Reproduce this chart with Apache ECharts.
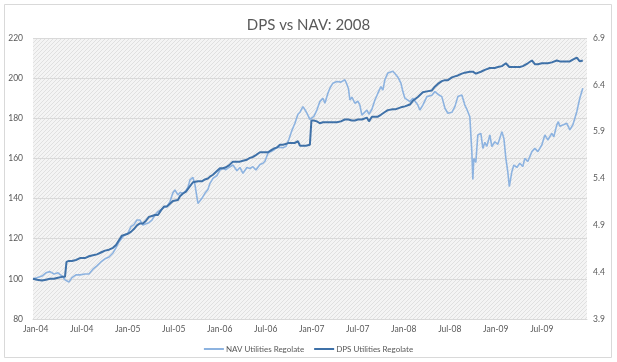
<!DOCTYPE html>
<html><head><meta charset="utf-8">
<script src="https://cdn.jsdelivr.net/npm/echarts@6/dist/echarts.min.js"></script>
<style>html,body{margin:0;padding:0;background:#fff;}#c{width:617px;height:362px;}</style>
</head><body><div id="c"></div>
<script>
// Time position of each observation, in months since 1 Jan 2004
const monthsSinceJan04 = [-0.35,0.17,0.82,1.34,1.86,2.39,2.91,3.43,3.82,4.02,
4.34,4.73,5.25,5.78,6.43,6.95,7.47,7.99,8.51,9.04,
9.56,10.08,10.47,10.86,11.25,11.64,12.03,12.42,12.81,13.21,
13.60,13.99,14.38,14.77,15.16,15.55,15.95,16.34,16.73,17.12,
17.51,17.90,18.16,18.55,18.82,19.21,19.60,19.86,20.12,20.51,
20.77,21.16,21.68,22.07,22.46,22.73,23.12,23.64,24.03,24.42,
24.81,25.20,25.72,26.25,26.64,27.03,27.55,27.94,28.33,28.72,
29.25,29.64,29.90,30.29,30.68,31.07,31.46,31.85,32.25,32.64,
33.03,33.42,33.81,34.20,34.46,34.85,35.24,35.50,35.76,35.96,
36.28,36.67,37.06,37.46,37.72,38.11,38.37,38.76,39.28,39.80,
40.32,40.58,40.78,40.98,41.24,41.63,42.02,42.28,42.54,42.80,
43.20,43.46,43.85,44.24,44.63,45.02,45.28,45.54,45.93,46.58,
46.98,47.24,47.63,47.89,48.15,48.41,48.80,49.19,49.45,49.84,
50.10,50.49,51.02,51.67,52.06,52.45,52.97,53.37,53.76,54.28,
54.67,55.06,55.58,55.97,56.23,56.62,56.88,57.01,57.14,57.40,
57.66,58.06,58.32,58.58,58.84,59.23,59.49,59.88,60.27,60.80,
61.06,61.32,61.58,61.77,62.10,62.36,62.75,63.14,63.53,63.79,
64.18,64.71,65.10,65.49,66.01,66.40,66.79,67.31,67.57,67.96,
68.16,68.35,68.75,69.27,69.66,70.05,70.57,70.96,71.35];

// NAV Utilities Regolate (left axis)
const navValues = [100.0,100.5,101.4,103.0,103.6,102.4,103.0,101.4,99.5,99.0,
98.4,100.6,102.0,102.0,102.4,102.4,104.8,106.5,108.4,110.0,
110.9,112.9,115.4,118.4,120.4,122.0,122.8,126.0,127.0,129.3,
129.3,126.8,127.5,128.0,129.3,131.8,133.5,134.5,135.5,136.0,
138.4,142.9,144.3,141.8,143.0,142.6,144.0,145.5,149.3,150.5,
147.0,137.6,140.1,142.6,144.5,147.6,150.1,151.5,154.2,155.0,
154.4,155.5,156.7,153.9,155.5,152.6,155.5,155.0,155.9,154.2,
157.0,157.6,158.6,162.6,163.5,164.2,165.6,165.5,165.3,166.0,
169.5,174.0,177.5,182.0,183.0,185.8,183.5,181.6,179.5,180.3,
181.0,184.1,188.3,190.0,187.5,192.5,195.0,197.5,198.3,198.0,
199.2,197.0,195.0,189.1,190.5,187.5,188.5,186.6,181.6,182.5,
184.1,182.0,184.5,189.1,192.5,195.8,194.0,199.2,202.6,203.4,
201.7,200.5,197.5,193.3,190.0,189.5,188.3,190.0,189.5,186.6,
184.1,186.6,190.8,191.5,193.3,192.0,190.8,185.0,182.5,183.0,
185.8,190.8,191.6,186.6,184.5,180.8,163.4,149.5,160.0,158.0,
171.7,172.5,165.0,168.0,166.0,171.7,165.9,168.3,167.0,173.3,
170.0,160.0,153.0,145.9,153.4,156.7,155.5,157.6,156.0,160.0,
158.5,163.4,165.0,163.4,166.7,171.7,169.2,172.5,170.8,176.7,
178.3,176.0,176.7,177.5,174.2,176.7,183.3,190.0,195.0];

// DPS Utilities Regolate (right axis)
const dpsValues = [4.33,4.32,4.31,4.32,4.33,4.33,4.34,4.35,4.35,4.51,
4.52,4.52,4.53,4.55,4.55,4.57,4.58,4.59,4.61,4.63,
4.64,4.66,4.69,4.74,4.79,4.80,4.81,4.83,4.86,4.90,
4.92,4.92,4.95,4.99,5.00,5.01,5.01,5.06,5.10,5.10,
5.13,5.16,5.17,5.17,5.21,5.24,5.26,5.29,5.31,5.36,
5.36,5.37,5.37,5.39,5.40,5.42,5.44,5.48,5.51,5.51,
5.52,5.54,5.58,5.58,5.58,5.59,5.60,5.62,5.63,5.65,
5.68,5.68,5.68,5.68,5.70,5.72,5.73,5.76,5.76,5.77,
5.78,5.78,5.78,5.80,5.75,5.75,5.75,5.75,5.76,6.02,
6.02,6.01,5.99,6.00,6.00,6.00,6.00,6.00,6.00,6.01,
6.03,6.03,6.03,6.03,6.02,6.02,6.03,6.03,6.03,6.03,
6.05,6.01,6.06,6.06,6.06,6.08,6.10,6.11,6.13,6.14,
6.14,6.15,6.16,6.17,6.17,6.17,6.19,6.23,6.24,6.27,
6.29,6.32,6.33,6.34,6.38,6.41,6.44,6.45,6.45,6.48,
6.49,6.50,6.52,6.53,6.53,6.54,6.54,6.54,6.54,6.52,
6.51,6.54,6.56,6.56,6.56,6.58,6.58,6.58,6.59,6.60,
6.62,6.63,6.61,6.59,6.59,6.59,6.59,6.59,6.60,6.60,
6.63,6.66,6.62,6.62,6.63,6.63,6.63,6.64,6.65,6.66,
6.64,6.65,6.65,6.65,6.65,6.67,6.69,6.65,6.66];

const xTickPositions = [0,6,12,18,24,30,36,42,48,54,60,66];
const xTickLabels = ["Jan-04","Jul-04","Jan-05","Jul-05","Jan-06","Jul-06","Jan-07","Jul-07","Jan-08","Jul-08","Jan-09","Jul-09"];
const seriesNames = ["NAV Utilities Regolate","DPS Utilities Regolate"];
const chartTitle = "DPS vs NAV: 2008";

// hatched plot background
const pc = document.createElement('canvas'); pc.width = 4; pc.height = 4;
const g = pc.getContext('2d');
g.fillStyle = '#f4f4f4'; g.fillRect(0,0,4,4);
g.fillStyle = '#e0e0e0';
for (let i = 0; i < 4; i++) g.fillRect(i, 3 - i, 1, 1);

const font = 'Lato, "Open Sans", sans-serif';
const chart = echarts.init(document.getElementById('c'), null, {renderer: 'canvas'});
chart.setOption({
  animation: false,
  backgroundColor: '#ffffff',
  textStyle: {fontFamily: font},
  graphic: [{
    type: 'rect', silent: true, z: -10,
    shape: {x: 4.5, y: 4.5, width: 607, height: 353},
    style: {fill: 'none', stroke: '#d9d9d9', lineWidth: 1}
  }],
  title: {
    text: chartTitle, left: 'center', top: 13,
    textStyle: {fontFamily: font, fontSize: 15, fontWeight: 'normal', color: '#595959'}
  },
  legend: {
    data: seriesNames, left: 'center', top: 340,
    icon: 'rect', itemWidth: 20, itemHeight: 2, itemGap: 10,
    textStyle: {fontFamily: font, fontSize: 8, color: '#595959', padding: [0,0,0,-3]}
  },
  grid: {
    left: 33, right: 30, top: 38, bottom: 43,
    show: true, borderWidth: 0,
    backgroundColor: {image: pc, repeat: 'repeat'}
  },
  xAxis: {
    type: 'value', min: -0.35, max: 71.9,
    axisLine: {show: true, lineStyle: {color: '#d9d9d9', width: 1}},
    axisTick: {show: false, customValues: xTickPositions},
    splitLine: {show: false},
    axisLabel: {
      customValues: xTickPositions,
      formatter: function (v) { const i = xTickPositions.indexOf(Math.round(v)); return i >= 0 ? xTickLabels[i] : ''; },
      color: '#595959', fontSize: 8.5, margin: 6, fontFamily: font
    }
  },
  yAxis: [{
    type: 'value', position: 'left', min: 80, max: 220, interval: 20,
    axisLine: {show: false}, axisTick: {show: false},
    splitLine: {show: true, lineStyle: {color: '#d9d9d9', width: 1}},
    axisLabel: {color: '#595959', fontSize: 8.5, margin: 10, fontFamily: font}
  }, {
    type: 'value', position: 'right', min: 3.9, max: 6.9, interval: 0.5,
    axisLine: {show: false}, axisTick: {show: false},
    splitLine: {show: false},
    axisLabel: {color: '#595959', fontSize: 8.5, margin: 6, fontFamily: font,
      formatter: function (v) { return v.toFixed(1); }}
  }],
  series: [{
    name: seriesNames[0], type: 'line', yAxisIndex: 0,
    showSymbol: false, symbol: 'none',
    data: monthsSinceJan04.map((m, i) => [m, navValues[i]]),
    itemStyle: {color: '#8db3e0'},
    lineStyle: {color: '#8db3e0', width: 1.6}
  }, {
    name: seriesNames[1], type: 'line', yAxisIndex: 1,
    showSymbol: false, symbol: 'none',
    data: monthsSinceJan04.map((m, i) => [m, dpsValues[i]]),
    itemStyle: {color: '#3f71a8'},
    lineStyle: {color: '#3f71a8', width: 2}
  }]
});
</script>
</body></html>
